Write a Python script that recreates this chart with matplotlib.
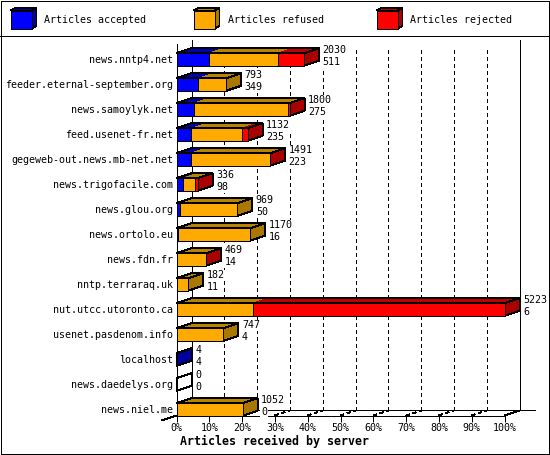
import matplotlib
matplotlib.use("Agg")
import matplotlib.pyplot as plt
from matplotlib.patches import Polygon, Rectangle

servers = ["news.nntp4.net", "feeder.eternal-september.org", "news.samoylyk.net",
           "feed.usenet-fr.net", "gegeweb-out.news.mb-net.net", "news.trigofacile.com",
           "news.glou.org", "news.ortolo.eu", "news.fdn.fr", "nntp.terraraq.uk",
           "nut.utcc.utoronto.ca", "usenet.pasdenom.info", "localhost",
           "news.daedelys.org", "news.niel.me"]
accepted = [511, 349, 275, 235, 223, 98, 50, 16, 14, 11, 6, 4, 4, 0, 0]
refused = [1101, 444, 1507, 806, 1258, 203, 919, 1154, 450, 171, 1210, 743, 0, 0, 1052]
rejected = [418, 0, 18, 91, 10, 35, 0, 0, 5, 0, 4007, 0, 0, 0, 0]
totals = [2030, 793, 1800, 1132, 1491, 336, 969, 1170, 469, 182, 5223, 747, 4, 0, 1052]
series_names = ["Articles accepted", "Articles refused", "Articles rejected"]
percent_ticks = [0, 10, 20, 30, 40, 50, 60, 70, 80, 90, 100]

FRONT = ["#0000FF", "#FFAA00", "#FF0000"]
TOP = ["#0000B4", "#B88400", "#BE0000"]
SIDE = ["#0000A0", "#AA7700", "#AA0000"]
MONO = "DejaVu Sans Mono"
LW = 0.72
FS = 7.2
W, H = 550, 455

plt.rcParams.update({"text.antialiased": True, "lines.antialiased": False,
                     "patch.antialiased": False, "font.family": MONO,
                     "lines.solid_capstyle": "butt", "lines.dash_capstyle": "butt"})

fig = plt.figure(figsize=(W / 100, H / 100), dpi=100, facecolor="white")

# pixel overlay for frame and legend
ov = fig.add_axes([0, 0, 1, 1], zorder=0)
ov.set_xlim(0, W)
ov.set_ylim(H, 0)
ov.axis("off")
ov.add_patch(Rectangle((0.5, 0.5), 548.5, 453, fill=False, ec="black", lw=LW))
ov.plot([0, 549], [35.5, 35.5], color="black", lw=LW)
for x0, name, f, t, s in zip([10.5, 193.5, 376.5], series_names, FRONT, TOP, SIDE):
    ov.add_patch(Polygon([(x0, 10.5), (x0 + 5, 8), (x0 + 26, 8), (x0 + 21, 10.5)], fc=t, ec="black", lw=LW))
    ov.add_patch(Polygon([(x0 + 21, 10.5), (x0 + 26, 8), (x0 + 26, 26), (x0 + 21, 28.5)], fc=s, ec="black", lw=LW))
    ov.add_patch(Rectangle((x0, 10.5), 21, 18, fc=f, ec="black", lw=LW))
    ov.text(x0 + 34, 20, name, fontsize=FS, va="center", ha="left", color="black")

# plot axes: front plane
PX0, PX1, PY0, PY1 = 176.5, 504.5, 44.0, 415.5
ROW0, PITCH = 59.5, 25.0
MAXV = max(totals)
ax = fig.add_axes([PX0 / W, 1 - PY1 / H, (PX1 - PX0) / W, (PY1 - PY0) / H], zorder=1)
ax.patch.set_alpha(0)
ax.set_xlim(0, MAXV)
ax.set_ylim((PY1 - ROW0) / PITCH, (PY0 - ROW0) / PITCH)
for k in ("top", "right"):
    ax.spines[k].set_visible(False)
for k in ("left", "bottom"):
    ax.spines[k].set_linewidth(LW)

DX = 15 * MAXV / (PX1 - PX0)
DY = 5 / PITCH
HALF = 6.25 / PITCH


def yd(py):
    return (py - ROW0) / PITCH


ax.set_xticks([p * MAXV / 100 for p in percent_ticks], [f"{p}%" for p in percent_ticks], fontsize=FS)
ax.tick_params(axis="x", length=4, width=LW, pad=1.5)
ax.set_yticks(range(len(servers)), servers, fontsize=FS)
ax.tick_params(axis="y", length=0, pad=2.5)
ax.set_xlabel("Articles received by server", fontsize=8.4, fontweight="bold", labelpad=1, x=0.298)

kw = dict(clip_on=False, color="black", lw=LW)
yfront, yback = yd(415.5), yd(410.5)
# back wall and floor
ax.plot([DX, DX], [yd(40), yback], **kw)
ax.plot([MAXV + DX, MAXV + DX], [yd(40), yback], **kw)
ax.plot([DX, MAXV + 30 * MAXV / (PX1 - PX0)], [yback, yback], **kw)
ax.plot([0, -DX], [yfront, yfront + DY], **kw)
ax.plot([MAXV, MAXV + DX], [yfront, yback], **kw)
for p in percent_ticks[1:-1]:
    x = p * MAXV / 100
    ax.plot([x + DX, x + DX], [yd(50), yback], clip_on=False, color="black", lw=LW,
            dashes=(4, 4), zorder=1.5)
    ax.plot([x, x + DX], [yfront, yback], clip_on=False, color="black", lw=LW,
            dashes=(4, 4), zorder=1.5)

# bars
box = dict(facecolor="white", edgecolor="none", pad=0.5)
for i in range(len(servers)):
    vals = [accepted[i], refused[i], rejected[i]]
    y1, y2 = i - HALF, i + HALF
    left = 0
    last = None
    for j, v in enumerate(vals):
        if v > 0:
            ax.fill([left, left + v, left + v + DX, left + DX], [y1, y1, y1 - DY, y1 - DY],
                    fc=TOP[j], ec="none", clip_on=False, zorder=2)
            last = j
        left += v
    end = left
    side_c = SIDE[last] if last is not None else "white"
    ax.add_patch(Polygon([(end, y1), (end + DX, y1 - DY), (end + DX, y2 - DY), (end, y2)],
                         fc=side_c, ec="black", lw=LW, clip_on=False, zorder=2.2))
    ax.add_patch(Polygon([(0, y1), (end, y1), (end + DX, y1 - DY), (DX, y1 - DY)],
                         fill=False, ec="black", lw=LW, clip_on=False, zorder=2.3))
    left = 0
    for j, v in enumerate(vals):
        if v > 0:
            ax.barh(i, v, left=left, height=2 * HALF, color=FRONT[j], edgecolor="black",
                    linewidth=LW, clip_on=False, zorder=2.4)
        left += v
    lx = end + DX + 3.5 * MAXV / (PX1 - PX0)
    ax.text(lx, i - 9 / PITCH, str(totals[i]), fontsize=FS, va="center", ha="left", zorder=4,
            color="black", bbox=box)
    ax.text(lx, i + 2.5 / PITCH, str(accepted[i]), fontsize=FS, va="center", ha="left", zorder=4,
            color="black", bbox=box)

fig.savefig("out.png", dpi=100)
